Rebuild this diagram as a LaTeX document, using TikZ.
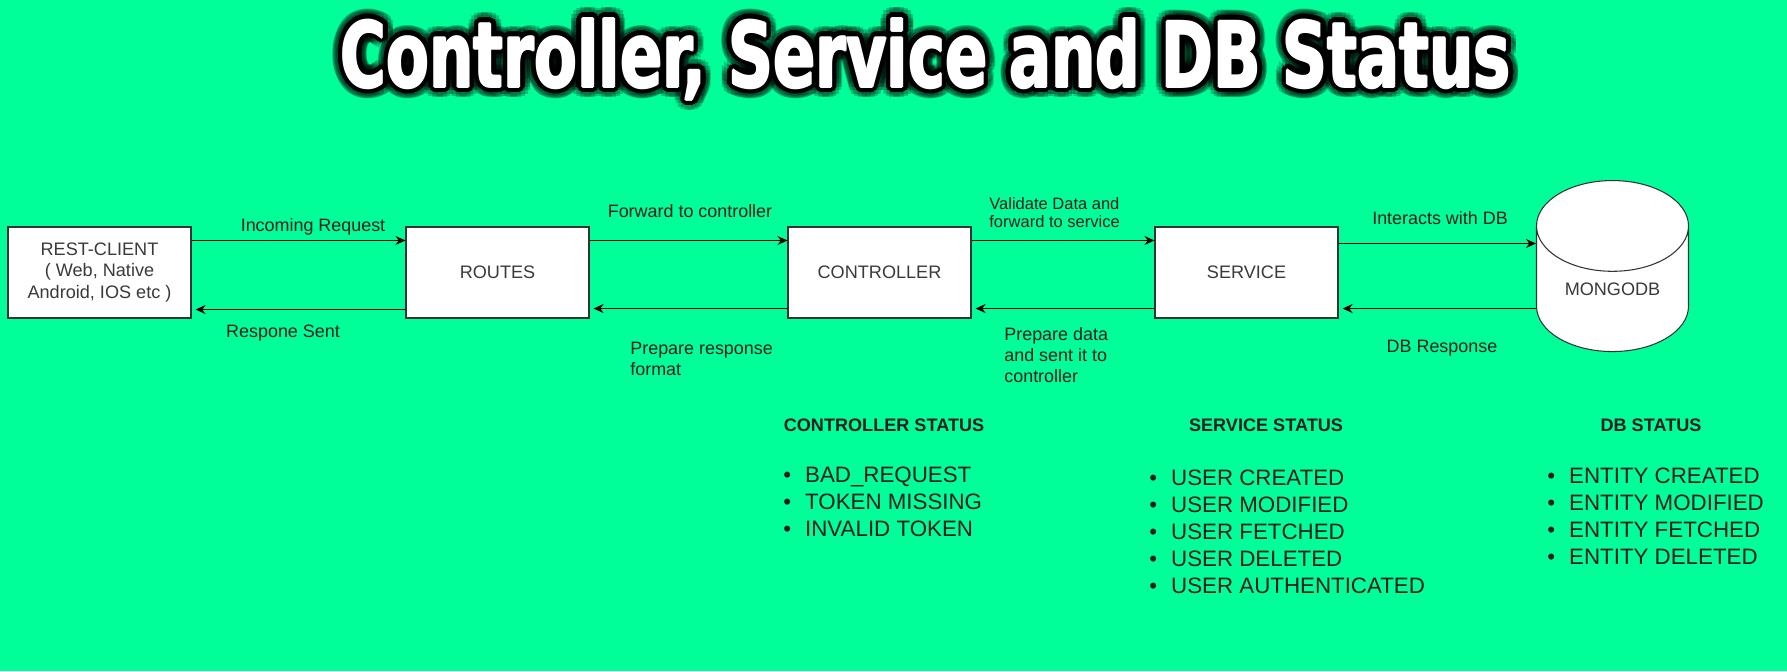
\documentclass[tikz,border=0pt]{standalone}
\usepackage{fontspec}
\setmainfont{Liberation Sans}
\newfontfamily\titlefont{DejaVu Sans Condensed Bold}
\usetikzlibrary{
  positioning,
  shapes.geometric,
  arrows.meta,
}
\definecolor{bgGreen}{HTML}{00FF99}
\definecolor{border}{HTML}{333333}
\definecolor{textCol}{HTML}{1E1E1E}
\definecolor{boxText}{HTML}{3A3A3A}
\tikzset{
  layerbox/.style={
    rectangle, draw=border, fill=white,
    minimum width=3.66cm, minimum height=1.82cm, align=center,
    font=\fontsize{10.3}{12.4}\selectfont, text=boxText,
    inner sep=2pt, line width=0.6pt,
  },
  dbcyl/.style={
    cylinder, shape border rotate=90, aspect=0.95, draw=border, fill=white,
    minimum width=3.04cm, minimum height=3.42cm,
    font=\fontsize{10.3}{12.4}\selectfont, text=boxText,
    inner sep=0pt, line width=0.6pt,
  },
  arrow/.style={-{Stealth[length=0.2cm, width=0.18cm]}, black, line width=0.9pt},
  backarrow/.style={arrow, shorten >=0.08cm},
  flowlabel/.style={font=\fontsize{10.2}{11.8}\selectfont, text=textCol, align=left, inner sep=0pt},
  smalllabel/.style={flowlabel, font=\fontsize{9.4}{10.6}\selectfont},
  statushead/.style={font=\fontsize{10.3}{12}\selectfont\bfseries, text=textCol, inner sep=0pt},
  statuslist/.style={font=\fontsize{12.7}{15.4}\selectfont, text=textCol, align=left, anchor=west, inner sep=0pt},
  titleglow/.style={anchor=base, text=black, opacity=0.22, inner sep=0pt},
  titleedge/.style={anchor=base, text=black, inner sep=0pt},
  titlemain/.style={anchor=base, text=white, inner sep=0pt},
}
\newcommand{\titletext}{\resizebox{23.4cm}{1.38cm}{\titlefont Controller, Service and DB Status}}

\begin{document}
\begin{tikzpicture}

  \fill[bgGreen] (0,0) rectangle (35.74,-13.42);

  % Title with black edge and glow
  \foreach \a in {0,20,...,340} {
    \node[titleglow] (glow\a) at ([shift={(\a:0.22)}]18.52,-1.74) {\titletext};
    \node[titleedge] (edge\a) at ([shift={(\a:0.11)}]18.52,-1.74) {\titletext};
  }
  \foreach \a in {0,90,180,270} {
    \node[titlemain] (fat\a) at ([shift={(\a:0.02)}]18.52,-1.74) {\titletext};
  }
  \node[titlemain] (title) at (18.52,-1.74) {\titletext};

  % Layer boxes
  \node[layerbox] (rest) at (1.99,-5.45) {REST-CLIENT\\( Web, Native\\Android, IOS etc )};
  \node[layerbox] (routes) at (9.95,-5.45) {ROUTES};
  \node[layerbox] (ctrl) at (17.59,-5.45) {CONTROLLER};
  \node[layerbox] (svc) at (24.93,-5.45) {SERVICE};
  \node[dbcyl] (db) at (32.25,-5.78) {MONGODB};

  % Request path
  \draw[arrow] ([yshift=-0.28cm]rest.north east) -- ([yshift=-0.28cm]routes.north west);
  \draw[arrow] ([yshift=-0.28cm]routes.north east) -- ([yshift=-0.28cm]ctrl.north west);
  \draw[arrow] ([yshift=-0.28cm]ctrl.north east) -- ([yshift=-0.28cm]svc.north west);
  \path ([yshift=-0.34cm]svc.north east) coordinate (svcout);
  \draw[arrow] (svcout) -- (svcout -| db.west);

  % Response path
  \draw[backarrow] ([yshift=0.18cm]routes.south west) -- ([yshift=0.18cm]rest.south east);
  \draw[backarrow] ([yshift=0.2cm]ctrl.south west) -- ([yshift=0.2cm]routes.south east);
  \draw[backarrow] ([yshift=0.2cm]svc.south west) -- ([yshift=0.2cm]ctrl.south east);
  \path ([yshift=0.2cm]svc.south east) coordinate (svcin);
  \draw[backarrow] (svcin -| db.west) -- (svcin);

  % Connector labels
  \node[flowlabel] (lreq) at (6.26,-4.54) {Incoming Request};
  \node[flowlabel] (lsent) at (5.66,-6.66) {Respone Sent};
  \node[flowlabel] (lfwd) at (13.8,-4.22) {Forward to controller};
  \node[smalllabel, anchor=west] (lvalid) at (19.78,-4.25) {Validate Data and\\forward to service};
  \node[flowlabel, anchor=west] (lfmt) at (12.6,-7.18) {Prepare response\\format};
  \node[flowlabel, anchor=west] (lprep) at (20.08,-7.1) {Prepare data\\and sent it to\\controller};
  \node[flowlabel] (ldb) at (28.8,-4.36) {Interacts with DB};
  \node[flowlabel] (ldbres) at (28.84,-6.96) {DB Response};

  % Status lists
  \node[statushead] (hctrl) at (17.68,-8.5) {CONTROLLER STATUS};
  \node[statushead] (hsvc) at (25.32,-8.5) {SERVICE STATUS};
  \node[statushead] (hdb) at (33.02,-8.5) {DB STATUS};

  \node[statuslist] (sctrl) at (15.66,-10.04) {
    \textbullet\hspace{0.28cm}BAD\_REQUEST\\
    \textbullet\hspace{0.28cm}TOKEN MISSING\\
    \textbullet\hspace{0.28cm}INVALID TOKEN};
  \node[statuslist] (ssvc) at (22.98,-10.64) {
    \textbullet\hspace{0.28cm}USER CREATED\\
    \textbullet\hspace{0.28cm}USER MODIFIED\\
    \textbullet\hspace{0.28cm}USER FETCHED\\
    \textbullet\hspace{0.28cm}USER DELETED\\
    \textbullet\hspace{0.28cm}USER AUTHENTICATED};
  \node[statuslist] (sdb) at (30.94,-10.33) {
    \textbullet\hspace{0.28cm}ENTITY CREATED\\
    \textbullet\hspace{0.28cm}ENTITY MODIFIED\\
    \textbullet\hspace{0.28cm}ENTITY FETCHED\\
    \textbullet\hspace{0.28cm}ENTITY DELETED};

\end{tikzpicture}
\end{document}
